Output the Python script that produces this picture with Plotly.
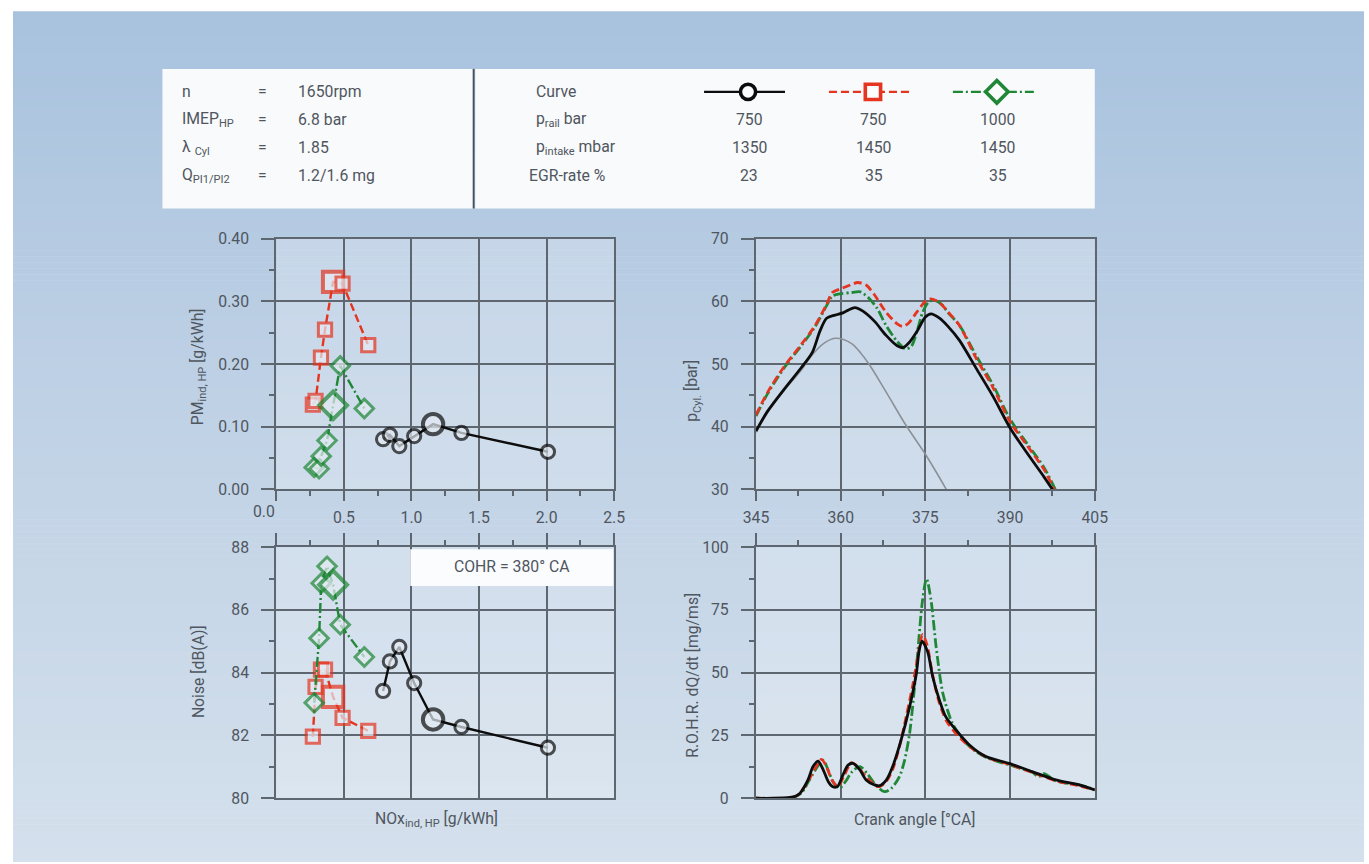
import plotly.graph_objects as go

# Layout positions below are written in output-picture pixels (1369x864).
# The page is captured at 1385x880 (figure plus the 8 px body margin) and
# fitted into 1369x864, so picture pixels are mapped back to figure pixels.
PIC_W, PIC_H = 1369, 864
CAP_W, CAP_H = 1385, 880
BODY = 8
SCALE = min(PIC_W / CAP_W, PIC_H / CAP_H)
SHIFT_X = (PIC_W - CAP_W * SCALE) / 2
W, H = CAP_W - BODY, CAP_H - BODY

FONT = "Roboto"
TXT = "#4f5660"
GRID = "#5e666f"
BLACK = "#0d0d0d"
RED = "#e5341f"
GREEN = "#1f8736"

# ---- operating points (NOx vs PM / noise), 5th point = COHR 380° CA ----
nox_black = [0.79, 0.84, 0.91, 1.02, 1.16, 1.37, 2.01]
pm_black = [0.080, 0.087, 0.069, 0.085, 0.104, 0.090, 0.060]
noise_black = [83.42, 84.36, 84.82, 83.67, 82.51, 82.27, 81.61]

nox_red = [0.27, 0.29, 0.33, 0.36, 0.42, 0.49, 0.68]
pm_red = [0.135, 0.141, 0.210, 0.255, 0.331, 0.328, 0.230]
noise_red = [81.96, 83.55, 84.10, 84.10, 83.23, 82.56, 82.15]

nox_green = [0.28, 0.316, 0.332, 0.375, 0.42, 0.473, 0.651]
pm_green = [0.035, 0.033, 0.053, 0.078, 0.134, 0.197, 0.129]
noise_green = [83.04, 85.10, 86.85, 87.39, 86.80, 85.53, 84.50]

highlight_index = 4

# ---- cylinder pressure [bar] over crank angle [°CA] ----
ca_p_black = [345, 347, 350, 353, 355, 356.3, 357.5, 359, 360.5, 362.5, 364, 366, 368, 370, 371,
              372, 373.5, 375, 376, 377.5, 379, 381, 384, 387, 390, 393, 396, 397.5]
p_black = [39.3, 42.4, 46.0, 49.4, 51.9, 55.2, 57.3, 57.8, 58.2, 59.0, 58.4, 56.8, 54.6, 52.9, 52.6,
           53.3, 55.2, 57.5, 58.0, 57.3, 56.0, 53.8, 49.3, 44.8, 39.8, 35.8, 32.0, 30.0]

ca_p_red = [345, 347, 350, 353, 355.5, 357.5, 358.5, 360, 362, 363, 364.5, 366, 368, 370, 371,
            372, 373.5, 375, 376, 377.5, 379, 381, 384, 387, 390, 393, 396, 397.8]
p_red = [41.9, 45.4, 49.6, 53.1, 56.2, 59.5, 61.4, 62.0, 62.7, 63.0, 62.6, 61.0, 58.3, 56.4, 56.0,
         56.5, 58.3, 60.0, 60.4, 59.8, 58.3, 56.2, 50.9, 46.2, 40.8, 37.0, 33.2, 30.0]

ca_p_green = [345, 347, 350, 353, 355.5, 357.5, 358.5, 360, 362, 363.5, 365, 366.5, 368, 370, 371.5,
              372.5, 373.5, 374.5, 375.5, 376.5, 378, 379, 381, 384, 387, 390, 393, 396, 398]
p_green = [41.7, 45.2, 49.4, 52.9, 56.0, 59.3, 60.8, 61.2, 61.4, 61.5, 60.5, 58.8, 56.2, 53.6, 52.4,
           52.8, 55.2, 58.2, 59.8, 60.2, 59.4, 58.2, 56.2, 51.3, 46.6, 41.2, 37.3, 33.5, 30.0]

ca_p_motored = [345, 347, 350, 353, 355, 357, 359, 360.5, 362, 363.5, 365, 368, 371.5, 375, 378.7]
p_motored = [39.1, 42.2, 45.8, 49.0, 51.5, 53.3, 54.1, 53.9, 53.2, 51.8, 50.0, 45.6, 40.3, 35.6, 30.0]

# ---- rate of heat release [mg/ms] over crank angle [°CA] ----
ca_r_black = [345, 348, 351, 352, 352.8, 354.2, 355.1, 356.0, 356.9, 357.8, 358.6, 359.4, 360.4, 361.3,
              362.2, 363.4, 364.5, 366, 366.9, 368.1, 369.2, 370.7, 372.2, 373.4, 373.9, 374.4, 375.4,
              376.3, 377.5, 378.6, 380.4, 382.8, 385.7, 389.8, 393.9, 398.1, 402.2, 405]
r_black = [0, 0, 0.3, 0.8, 2.0, 7.3, 12.6, 14.8, 11.3, 6.6, 4.6, 4.6, 9.3, 13.2,
           13.9, 11.3, 7.3, 5.3, 5.0, 7.3, 12.6, 23.2, 36.4, 49.7, 58.9, 62.6, 58.3,
           48.3, 39.0, 32.5, 27.2, 21.2, 16.6, 13.9, 10.6, 7.3, 5.3, 3.3]

ca_r_red = [345, 351, 352.5, 354, 355.5, 356.6, 357.5, 358.5, 359.5, 360.5, 361.9, 363, 364.5, 366.6,
            368, 369.2, 370.4, 371.6, 372.8, 373.7, 374.5, 375.3, 376.2, 377.4, 378.8, 380.6, 383,
            386, 390, 394, 398, 402, 405]
r_red = [0, 0, 1.5, 6.0, 12.0, 15.5, 12.5, 7.0, 4.8, 8.5, 14.2, 12.5, 8.5, 4.6,
         6.5, 11.5, 20.5, 32.5, 45.5, 57.0, 65.2, 61.0, 50.0, 38.5, 30.5, 25.3, 20.3,
         16.2, 13.4, 10.2, 7.0, 5.0, 3.3]

ca_r_green = [345, 351, 353, 354.5, 356, 356.9, 357.8, 358.8, 359.8, 360.8, 362, 363.4, 364.8, 366.3,
              367.8, 369, 370.4, 371.3, 372.2, 373.4, 374.5, 375.2, 376, 376.9, 378.1, 379.8, 382,
              384, 386, 388, 390, 392, 394, 395, 396, 398, 400, 402, 404, 405]
r_green = [0, 0, 2.0, 7.5, 13.0, 15.2, 11.0, 6.0, 4.0, 6.5, 10.5, 12.6, 9.5, 5.0,
           2.6, 4.0, 8.6, 15.0, 25.8, 52.0, 79.0, 87.4, 78.8, 60.3, 41.7, 29.8, 22.5,
           18.5, 16.0, 14.5, 13.2, 11.8, 10.3, 8.5, 9.8, 7.0, 6.0, 5.5, 4.2, 3.3]

# ---- info table ----
cond_labels = ["n", "IMEP<sub>HP</sub>", "λ <sub>Cyl</sub>", "Q<sub>PI1/PI2</sub>"]
cond_values = ["1650rpm", "6.8 bar", "1.85", "1.2/1.6 mg"]
param_labels = ["Curve", "p<sub>rail</sub> bar", "p<sub>intake</sub> mbar", "EGR-rate %"]
rail_bar = ["750", "750", "1000"]
intake_mbar = ["1350", "1450", "1450"]
egr_rate = ["23", "35", "35"]


def fx(x):
    return (x - SHIFT_X) / SCALE - BODY


def fy(y):
    return y / SCALE - BODY


def px(x):
    return fx(x) / W


def py(y):
    return 1 - fy(y) / H


def sz(v):
    return v / SCALE


MARK_FILL = "#e4ebf3"
series = [
    dict(color=BLACK, dash="solid", symbol="circle"),
    dict(color=RED, dash="8px,4px", symbol="square"),
    dict(color=GREEN, dash="10px,3px,2px,3px", symbol="diamond"),
]
nox_all = [nox_black, nox_red, nox_green]
pm_all = [pm_black, pm_red, pm_green]
noise_all = [noise_black, noise_red, noise_green]
ca_p_all = [ca_p_black, ca_p_red, ca_p_green]
p_all = [p_black, p_red, p_green]
ca_r_all = [ca_r_black, ca_r_red, ca_r_green]
r_all = [r_black, r_red, r_green]

fig = go.Figure()


def per_point(n, small, big):
    return [big if i == highlight_index else small for i in range(n)]


for s, nx, pm, ns in zip(series, nox_all, pm_all, noise_all):
    msz = 13 if s["symbol"] != "diamond" else 14
    for yv, xa, ya in ((pm, "x", "y"), (ns, "x3", "y3")):
        fig.add_trace(go.Scatter(
            x=nx, y=yv, xaxis=xa, yaxis=ya, mode="lines+markers",
            line=dict(color=s["color"], width=2.4, dash=s["dash"]),
            marker=dict(symbol=s["symbol"], size=per_point(len(nx), sz(msz), sz(msz + 7)),
                        color=MARK_FILL,
                        line=dict(color=s["color"], width=per_point(len(nx), 3.0, 4.0))),
            showlegend=False, hoverinfo="skip"))

# motored pressure trace
fig.add_trace(go.Scatter(x=ca_p_motored, y=p_motored, xaxis="x2", yaxis="y2", mode="lines",
                         line=dict(color="#8c9198", width=1.6, shape="spline"),
                         showlegend=False, hoverinfo="skip"))

for order in (2, 1, 0):
    s = series[order]
    fig.add_trace(go.Scatter(x=ca_p_all[order], y=p_all[order], xaxis="x2", yaxis="y2", mode="lines",
                             line=dict(color=s["color"], width=2.8, dash=s["dash"], shape="spline",
                                       smoothing=0.8),
                             showlegend=False, hoverinfo="skip"))
    fig.add_trace(go.Scatter(x=ca_r_all[order], y=r_all[order], xaxis="x4", yaxis="y4", mode="lines",
                             line=dict(color=s["color"], width=2.8, dash=s["dash"], shape="spline",
                                       smoothing=0.8),
                             showlegend=False, hoverinfo="skip"))

# legend samples in the header table (picture-pixel overlay axes)
legend_cx = [748, 873, 997]
for s, cx in zip(series, legend_cx):
    fig.add_trace(go.Scatter(x=[cx - 44, cx + 37], y=[91, 91], xaxis="x5", yaxis="y5", mode="lines",
                             line=dict(color=s["color"], width=2.4, dash=s["dash"]),
                             showlegend=False, hoverinfo="skip"))
    fig.add_trace(go.Scatter(x=[cx], y=[91], xaxis="x5", yaxis="y5", mode="markers",
                             marker=dict(symbol=s["symbol"], size=sz(15 if s["symbol"] != "diamond" else 17),
                                         color="#fbfcfd", line=dict(color=s["color"], width=3.6)),
                             showlegend=False, hoverinfo="skip"))

tickfont = dict(family=FONT, size=sz(15.5), color=TXT)


def axis(domain, rng, anchor, major, minor, ticklen, side=None, labels=True, tickvals=None,
         ticktext=None, tickformat=None):
    d = dict(domain=domain, range=rng, anchor=anchor, showgrid=True, gridcolor=GRID, gridwidth=1.8,
             showline=True, linecolor=GRID, linewidth=1.8, mirror=True, zeroline=False,
             ticks="outside", ticklen=sz(ticklen), tickwidth=1.7, tickcolor=GRID,
             tickfont=tickfont, showticklabels=labels, fixedrange=True,
             minor=dict(ticks="outside", ticklen=sz(5), tickwidth=1.6, tickcolor=GRID,
                        tickmode="linear", tick0=rng[0], dtick=minor, showgrid=False))
    if tickvals is not None:
        d.update(tickmode="array", tickvals=tickvals, ticktext=ticktext)
    else:
        d.update(tickmode="linear", tick0=rng[0], dtick=major)
    if side:
        d["side"] = side
    if tickformat:
        d["tickformat"] = tickformat
    return d


XL = [px(276), px(614)]
XR = [px(756), px(1095)]
YT = [py(490), py(238.3)]
YB = [py(800), py(548)]

nox_ticks = [0, 0.5, 1.0, 1.5, 2.0, 2.5]
fig.update_layout(
    xaxis=axis(XL, [0, 2.5], "y", 0.5, 0.25, 10, tickvals=nox_ticks,
               ticktext=[""] + [f"{v:.1f}" for v in nox_ticks[1:]]),
    yaxis=axis(YT, [0, 0.4], "x", 0.1, 0.05, 13, tickformat=".2f"),
    xaxis2=axis(XR, [345, 405], "y2", 15, 7.5, 10),
    yaxis2=axis(YT, [30, 70], "x2", 10, 5, 13),
    xaxis3=axis(XL, [0, 2.5], "y3", 0.5, 0.25, 12, side="top", labels=False),
    yaxis3=axis(YB, [80, 88], "x3", 2, 1, 13),
    xaxis4=axis(XR, [345, 405], "y4", 15, 7.5, 12, side="top", labels=False),
    yaxis4=axis(YB, [0, 100], "x4", 25, 12.5, 13),
    xaxis5=dict(domain=[0, 1], range=[SHIFT_X + BODY * SCALE, SHIFT_X + (BODY + W) * SCALE],
                anchor="y5", visible=False, fixedrange=True),
    yaxis5=dict(domain=[0, 1], range=[(BODY + H) * SCALE, BODY * SCALE],
                anchor="x5", visible=False, fixedrange=True),
)
for name in ("yaxis", "yaxis2", "yaxis3", "yaxis4"):
    fig.layout[name].ticklabelstandoff = 9
for name in ("xaxis", "xaxis2"):
    fig.layout[name].ticklabelstandoff = 3

shapes = []

# page background: light-blue vertical gradient in thin bands below a white strip
grad_stops = [(10, (168, 194, 222)), (400, (191, 209, 229)), (864, (212, 224, 236))]
band_h = 6
y0 = 10
while y0 < PIC_H:
    y1 = min(PIC_H, y0 + band_h)
    ym = (y0 + y1) / 2
    for (ya, ca), (yb, cb) in zip(grad_stops[:-1], grad_stops[1:]):
        if ya <= ym <= yb:
            t = (ym - ya) / (yb - ya)
            rgb = tuple(round(a + (b - a) * t) for a, b in zip(ca, cb))
            break
    shapes.append(dict(type="rect", xref="paper", yref="paper", x0=0, x1=1,
                       y0=max(0, py(y1 + 0.6)), y1=min(1, py(y0)), fillcolor="rgb(%d,%d,%d)" % rgb,
                       line=dict(width=0), layer="below"))
    y0 = y1

# plot-area tint
for xd, yd in ((XL, YT), (XR, YT), (XL, YB), (XR, YB)):
    shapes.append(dict(type="rect", xref="paper", yref="paper", x0=xd[0], x1=xd[1], y0=yd[0], y1=yd[1],
                       fillcolor="rgba(255,255,255,0.22)", line=dict(width=0), layer="below"))
# header table boxes
shapes.append(dict(type="rect", xref="paper", yref="paper", x0=px(162), x1=px(472), y0=py(208), y1=py(68),
                   fillcolor="#f9fafb", line=dict(width=0), layer="below"))
shapes.append(dict(type="rect", xref="paper", yref="paper", x0=px(475), x1=px(1095), y0=py(208), y1=py(68),
                   fillcolor="#f9fafb", line=dict(width=0), layer="below"))
shapes.append(dict(type="line", xref="paper", yref="paper", x0=px(473.5), x1=px(473.5), y0=py(208), y1=py(68),
                   line=dict(color="#4a4f55", width=1.6), layer="below"))
# COHR label box
shapes.append(dict(type="rect", xref="paper", yref="paper", x0=px(410), x1=px(613), y0=py(587), y1=py(550),
                   fillcolor="#fbfcfd", line=dict(width=0), layer="above"))
fig.update_layout(shapes=shapes)

ann = []


def text(x, y, s, size=15.5, xanchor="left", angle=0, color=TXT):
    ann.append(dict(x=px(x), y=py(y), xref="paper", yref="paper", text=s, showarrow=False,
                    xanchor=xanchor, yanchor="middle", textangle=angle,
                    font=dict(family=FONT, size=sz(size), color=color)))


rows_y = [91, 118.5, 147, 175]
for yv, lab, val in zip(rows_y, cond_labels, cond_values):
    text(180, yv, lab)
    text(256, yv, "=")
    text(296, yv, val)

label_x = [534, 534, 534, 527]
for yv, lab, lx in zip(rows_y, param_labels, label_x):
    text(lx, yv, lab)
for row, vals in zip(rows_y[1:], (rail_bar, intake_mbar, egr_rate)):
    for cx, v in zip(legend_cx, vals):
        text(cx + 1, row, v, xanchor="center")

text(264, 512, "0.0", xanchor="center")
text(512, 567, "COHR = 380° CA", xanchor="center")

text(198, 367, "PM<sub>ind, HP</sub> [g/kWh]", angle=-90, xanchor="center")
text(693, 391, "p<sub>Cyl.</sub> [bar]", angle=-90, xanchor="center")
text(198, 673, "Noise [dB(A)]", angle=-90, xanchor="center")
text(693, 677, "R.O.H.R. dQ/dt [mg/ms]", angle=-90, xanchor="center")
text(436, 821, "NOx<sub>ind, HP</sub> [g/kWh]", xanchor="center")
text(915, 821, "Crank angle [°CA]", xanchor="center")

fig.update_layout(
    annotations=ann,
    width=W, height=H,
    margin=dict(l=0, r=0, t=0, b=0),
    paper_bgcolor="#ffffff",
    plot_bgcolor="rgba(0,0,0,0)",
    showlegend=False,
)

fig.write_html("out.html", config={"displayModeBar": False})
